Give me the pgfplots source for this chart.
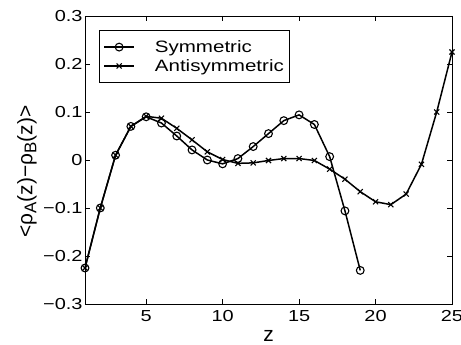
\documentclass[border=0pt]{standalone}
\usepackage{fontspec}
\setmainfont{Liberation Sans}[FakeStretch=1.25]
\newfontfamily\lblfont{Liberation Sans}
\usepackage{pgfplots}
\pgfplotsset{compat=1.18}
\begin{document}
\begin{tikzpicture}
\useasboundingbox (-85bp,-41bp) rectangle (376bp,304bp);
\begin{axis}[
  scale only axis,
  width=367bp, height=288bp,
  xmin=1, xmax=25, ymin=-0.3, ymax=0.3,
  xtick={5,10,15,20,25},
  xticklabels={5,10,15,20,25},
  ytick={-0.3,-0.2,-0.1,0,0.1,0.2,0.3},
  yticklabels={−0.3,−0.2,−0.1,0,0.1,0.2,0.3},
  tick align=inside,
  major tick length=5bp,
  axis line style={line width=0.8pt},
  every tick/.style={black, line width=0.6pt},
  tick label style={font=\fontsize{16}{18}\selectfont},
  yticklabel style={xshift=1bp},
  xticklabel style={yshift=-3bp},
  xlabel={\lblfont z},
  ylabel={\lblfont <ρ\raisebox{-0.35ex}{\fontsize{17}{19}\selectfont A}(z)−ρ\raisebox{-0.35ex}{\fontsize{17}{19}\selectfont B}(z)>},
  label style={font=\fontsize{21}{23}\selectfont},
  xlabel style={at={(rel axis cs:0.5,-0.111)}, anchor=center},
  ylabel style={at={(rel axis cs:-0.158,0.46)}, anchor=center},
  legend style={at={(rel axis cs:0,1)}, anchor=north west, xshift=14bp, yshift=-14bp,
    draw=black, line width=0.8pt, font=\fontsize{16.5}{18}\selectfont,
    inner xsep=4bp, inner ysep=8bp, row sep=1.5bp},
  legend cell align=left,
  legend image code/.code={\draw[mark repeat=2,mark phase=2,#1] plot coordinates {(0bp,0bp) (15bp,0bp) (30bp,0bp)};},
  /tikz/every even column/.append style={column sep=0bp},
]
\addplot[black, line width=1.5pt, mark=o, mark size=3.9bp, mark options={line width=1.1pt}] coordinates {
(1,-0.225) (2,-0.100) (3,0.010) (4,0.070) (5,0.090) (6,0.077) (7,0.050) (8,0.021)
(9,0.000) (10,-0.008) (11,0.003) (12,0.028) (13,0.055) (14,0.082) (15,0.094)
(16,0.074) (17,0.007) (18,-0.106) (19,-0.230)
};
\addlegendentry{\hspace{18bp}Symmetric}
\addplot[black, line width=1.5pt, mark=x, mark size=3.6bp, mark options={line width=1.1pt}] coordinates {
(1,-0.225) (2,-0.100) (3,0.010) (4,0.070) (5,0.091) (6,0.087) (7,0.066) (8,0.042)
(9,0.017) (10,0.001) (11,-0.007) (12,-0.006) (13,-0.001) (14,0.003) (15,0.003)
(16,-0.001) (17,-0.019) (18,-0.040) (19,-0.066) (20,-0.087) (21,-0.093)
(22,-0.071) (23,-0.009) (24,0.100) (25,0.225)
};
\addlegendentry{\hspace{18bp}Antisymmetric}
\end{axis}
\end{tikzpicture}
\end{document}
